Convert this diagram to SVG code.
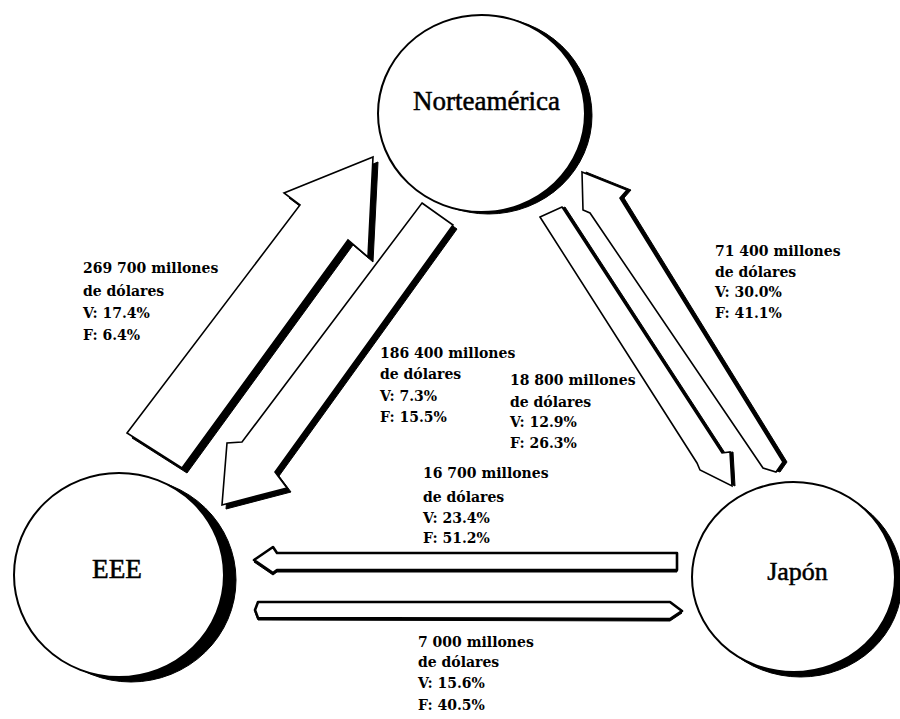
<svg xmlns="http://www.w3.org/2000/svg" width="900" height="719" viewBox="0 0 900 719">
<style>
.bg{fill:#fff}
.shadow{fill:#000;stroke:#000;stroke-width:1}
.node{fill:#fff;stroke:#000;stroke-width:2}
.arrow{fill:#fff;stroke:#000;stroke-width:1.6;stroke-linejoin:miter}
.harrow{fill:#fff;stroke:#000;stroke-width:2.6;stroke-linejoin:round}
.lbl{font-family:"DejaVu Serif","Liberation Serif",serif;font-weight:bold;font-size:14px;fill:#000}
.ntxt{font-family:"Liberation Serif","Times New Roman",serif;fill:#000;stroke:#000;stroke-width:0.5;text-anchor:middle}
</style>
<rect class="bg" x="0" y="0" width="900" height="719"/>

<g id="node-norteamerica">
  <ellipse class="shadow" cx="488.5" cy="115.5" rx="103.5" ry="98.5"/>
  <ellipse class="node" cx="481.5" cy="113.5" rx="103.5" ry="98.5"/>
  <text class="ntxt" x="486.5" y="110" font-size="27">Norteamérica</text>
</g>

<g id="node-eee">
  <ellipse class="shadow" cx="131" cy="580" rx="105" ry="102"/>
  <ellipse class="node" cx="119" cy="575" rx="105" ry="102"/>
  <text class="ntxt" x="117" y="578" font-size="27" textLength="50" lengthAdjust="spacingAndGlyphs">EEE</text>
</g>

<g id="node-japon">
  <ellipse class="shadow" cx="800.5" cy="582" rx="101.5" ry="95"/>
  <ellipse class="node" cx="793.5" cy="577" rx="101.5" ry="95"/>
  <text class="ntxt" x="797.5" y="580" font-size="26">Japón</text>
</g>

<g id="connectors">
  <g id="arrow-eee-norteamerica">
    <polygon class="shadow" transform="translate(5,5)" points="127,433 300,205 284,193 373,157 368,257 348,240 182,468"/>
    <polygon class="arrow" points="127,433 300,205 284,193 373,157 368,257 348,240 182,468"/>
  </g>
  <g id="arrow-norteamerica-eee">
    <polygon class="shadow" transform="translate(4,4)" points="422,203 453,225 275,472 287,488 222,505 227,443 242,442"/>
    <polygon class="arrow" points="422,203 453,225 275,472 287,488 222,505 227,443 242,442"/>
  </g>
  <g id="arrow-norteamerica-japon">
    <polygon class="shadow" transform="translate(3,0)" points="540,217 562,207 722,453 730,452 732,486 700,470 697,463"/>
    <polygon class="arrow" points="540,217 562,207 722,453 730,452 732,486 700,470 697,463"/>
  </g>
  <g id="arrow-japon-norteamerica">
    <polygon class="shadow" transform="translate(4,0)" points="582,172 627,190 620,198 783,462 776,472 763,468 590,213 583,210"/>
    <polygon class="arrow" points="582,172 627,190 620,198 783,462 776,472 763,468 590,213 583,210"/>
  </g>
  <g id="arrow-japon-eee">
    <polygon class="shadow" transform="translate(0,2)" points="677,553 277,553 273,547 254,560 273,573 277,570 677,570"/>
    <polygon class="harrow" points="677,553 277,553 273,547 254,560 273,573 277,570 677,570"/>
  </g>
  <g id="arrow-eee-japon">
    <polygon class="shadow" transform="translate(0,2)" points="258,602 670,602 682,611 670,619 258,618 255,610"/>
    <polygon class="harrow" points="258,602 670,602 682,611 670,619 258,618 255,610"/>
  </g>
</g>

<g id="labels">
  <text class="lbl"><tspan x="83" y="273">269 700 millones</tspan><tspan x="83" y="296">de dólares</tspan><tspan x="83" y="318">V: 17.4%</tspan><tspan x="83" y="340">F: 6.4%</tspan></text>
  <text class="lbl"><tspan x="380" y="358">186 400 millones</tspan><tspan x="380" y="379">de dólares</tspan><tspan x="380" y="401">V: 7.3%</tspan><tspan x="380" y="422">F: 15.5%</tspan></text>
  <text class="lbl"><tspan x="510" y="385">18 800 millones</tspan><tspan x="510" y="407">de dólares</tspan><tspan x="510" y="427">V: 12.9%</tspan><tspan x="510" y="448">F: 26.3%</tspan></text>
  <text class="lbl"><tspan x="715" y="256">71 400 millones</tspan><tspan x="715" y="277">de dólares</tspan><tspan x="715" y="297">V: 30.0%</tspan><tspan x="715" y="318">F: 41.1%</tspan></text>
  <text class="lbl"><tspan x="423" y="478">16 700 millones</tspan><tspan x="423" y="502">de dólares</tspan><tspan x="423" y="523">V: 23.4%</tspan><tspan x="423" y="543">F: 51.2%</tspan></text>
  <text class="lbl"><tspan x="418" y="647">7 000 millones</tspan><tspan x="418" y="667">de dólares</tspan><tspan x="418" y="688">V: 15.6%</tspan><tspan x="418" y="710">F: 40.5%</tspan></text>
</g>
</svg>
